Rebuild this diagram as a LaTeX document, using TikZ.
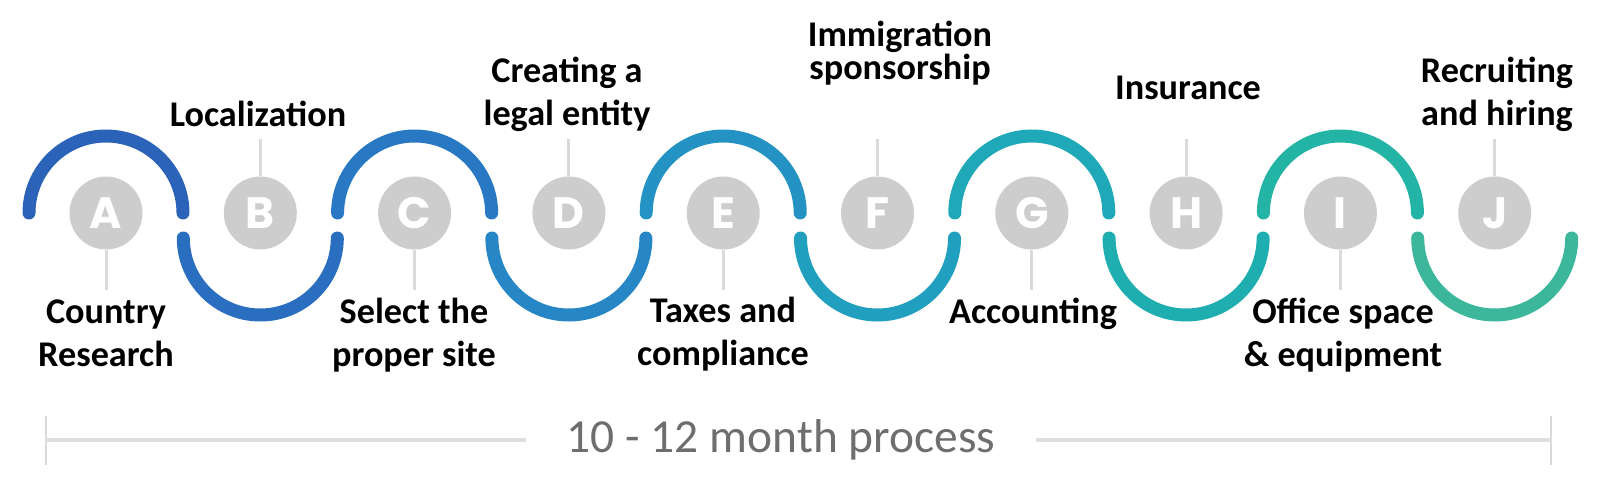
\documentclass[tikz,border=0pt]{standalone}
\usepackage{fontspec}
\setmainfont{Carlito}
\newfontfamily\letterfont{Poppins}
\usepackage{xcolor}
\usepackage{tikz}
\usetikzlibrary{positioning}

\definecolor{waveA}{RGB}{43,99,184}
\definecolor{waveB}{RGB}{42,110,192}
\definecolor{waveC}{RGB}{40,120,196}
\definecolor{waveD}{RGB}{38,134,198}
\definecolor{waveE}{RGB}{36,147,196}
\definecolor{waveF}{RGB}{32,160,190}
\definecolor{waveG}{RGB}{30,168,184}
\definecolor{waveH}{RGB}{31,174,176}
\definecolor{waveI}{RGB}{36,180,166}
\definecolor{waveJ}{RGB}{60,183,155}
\definecolor{dotgray}{RGB}{205,205,205}
\definecolor{stemgray}{RGB}{218,218,218}
\definecolor{bargray}{RGB}{222,222,222}
\definecolor{spangray}{RGB}{110,110,110}

\tikzset{
  wave/.style={line width=2.6mm, line cap=round},
  stepdot/.style={circle, fill=dotgray, minimum size=14.6mm, inner sep=0pt,
                  text=white, font=\letterfont\bfseries\fontsize{25}{25}\selectfont},
  stem/.style={draw=stemgray, line width=0.6mm},
  lbl/.style={font=\bfseries\fontsize{20.6}{24}\selectfont, align=center,
              anchor=base, inner sep=0pt},
  bar/.style={draw=bargray, line width=0.9mm},
  span/.style={font=\fontsize{27}{27}\selectfont, text=spangray,
               anchor=base, inner xsep=8mm, inner ysep=0pt},
}

\begin{document}
\begin{tikzpicture}[x=0.2mm, y=0.2mm]

  \useasboundingbox (0,0) rectangle (1600,478);

  % --- Step circles ---
  \foreach \l [count=\i from 0] in {A,B,C,D,E,F,G,H,I,J}
    \node[stepdot] (c\l) at (106+154.3*\i, 265) {\l};

  % --- Wave ---
  \foreach \l in {A,C,E,G,I}
    \draw[wave, draw=wave\l] (c\l.center) ++(-77,0)
      arc[start angle=180, end angle=0, radius=77];
  \foreach \l in {B,D,F,H,J}
    \draw[wave, draw=wave\l] (c\l.center) ++(-77,-25)
      arc[start angle=180, end angle=360, radius=77];

  % --- Labels (base = last line) ---
  \node[lbl] (lA) at (106,112)  {Country\\Research};
  \node[lbl] (lB) at (258,352)  {Localization};
  \node[lbl] (lC) at (414,112)  {Select the\\proper site};
  \node[lbl] (lD) at (567,353)  {Creating a\\legal entity};
  \node[lbl] (lE) at (723,113)  {Taxes and\\compliance};
  \node[lbl, font=\bfseries\fontsize{20.6}{19}\selectfont] (lF) at (900,398)
    {Immigration\\sponsorship};
  \node[lbl] (lG) at (1033,155) {Accounting};
  \node[lbl] (lH) at (1188,378) {Insurance};
  \node[lbl] (lI) at (1343,112) {Office space\\\& equipment};
  \node[lbl] (lJ) at (1497,353) {Recruiting\\and hiring};

  % --- Stems ---
  \foreach \l in {A,C,E,G,I}
    \draw[stem] (c\l.south) -- ++(0,-40);
  \foreach \l in {B,D,F,H,J}
    \draw[stem] (c\l.north) -- ++(0,37);

  % --- Time span ---
  \coordinate (bl) at (46,38);
  \coordinate (br) at (1551,38);
  \node[span] (span) at (781,26) {10 - 12 month process};
  \draw[bar] (bl) -- (bl -| span.west);
  \draw[bar] (span.east |- br) -- (br);
  \draw[stem, line width=0.5mm] ([yshift=4.8mm]bl) -- ([yshift=-5mm]bl);
  \draw[stem, line width=0.5mm] ([yshift=4.8mm]br) -- ([yshift=-5mm]br);

\end{tikzpicture}
\end{document}
